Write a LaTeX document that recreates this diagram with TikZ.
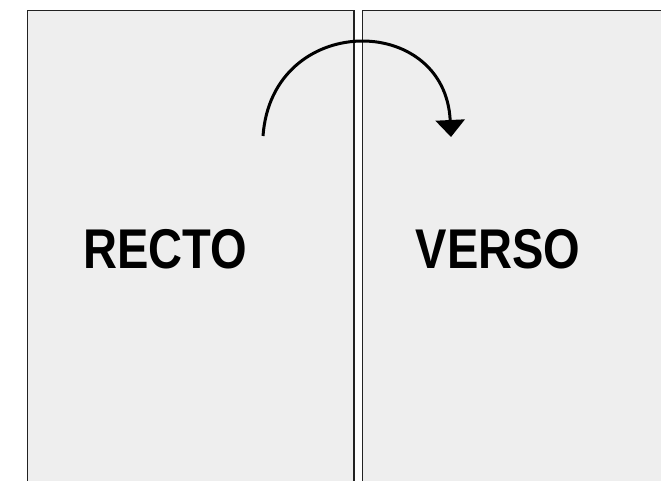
\documentclass[tikz,border=0pt]{standalone}
\usepackage{fontspec}
\setmainfont{Liberation Sans}[FakeStretch=0.84]
\usepackage{xcolor}
\usetikzlibrary{arrows.meta}
\definecolor{pagegray}{HTML}{EEEEEE}
\definecolor{edgegray}{HTML}{222222}
\tikzset{page/.style={fill=pagegray,draw=edgegray,line width=1.3pt},
  pagelabel/.style={anchor=base,font=\fontsize{56}{66}\selectfont\bfseries}}

\begin{document}
\begin{tikzpicture}[x=1pt,y=-1pt]
\useasboundingbox (0,0) rectangle (661,481);
\clip (0,0) rectangle (661,481);
\fill[white] (0,0) rectangle (661,481);
\draw[page] (27.5,10.5) rectangle (354,500);
\draw[page] (362.5,10.5) rectangle (680,500);
\node[pagelabel] (recto) at (165,268) {RECTO};
\node[pagelabel] (verso) at (498,268) {VERSO};
\coordinate (turnstart) at (263,136);
\coordinate (turnend) at (451,137);
\draw[line width=3pt,-{Triangle[width=29pt,length=17pt]}] (turnstart) .. controls (272,12) and (445,12) .. (turnend);
\end{tikzpicture}
\end{document}
